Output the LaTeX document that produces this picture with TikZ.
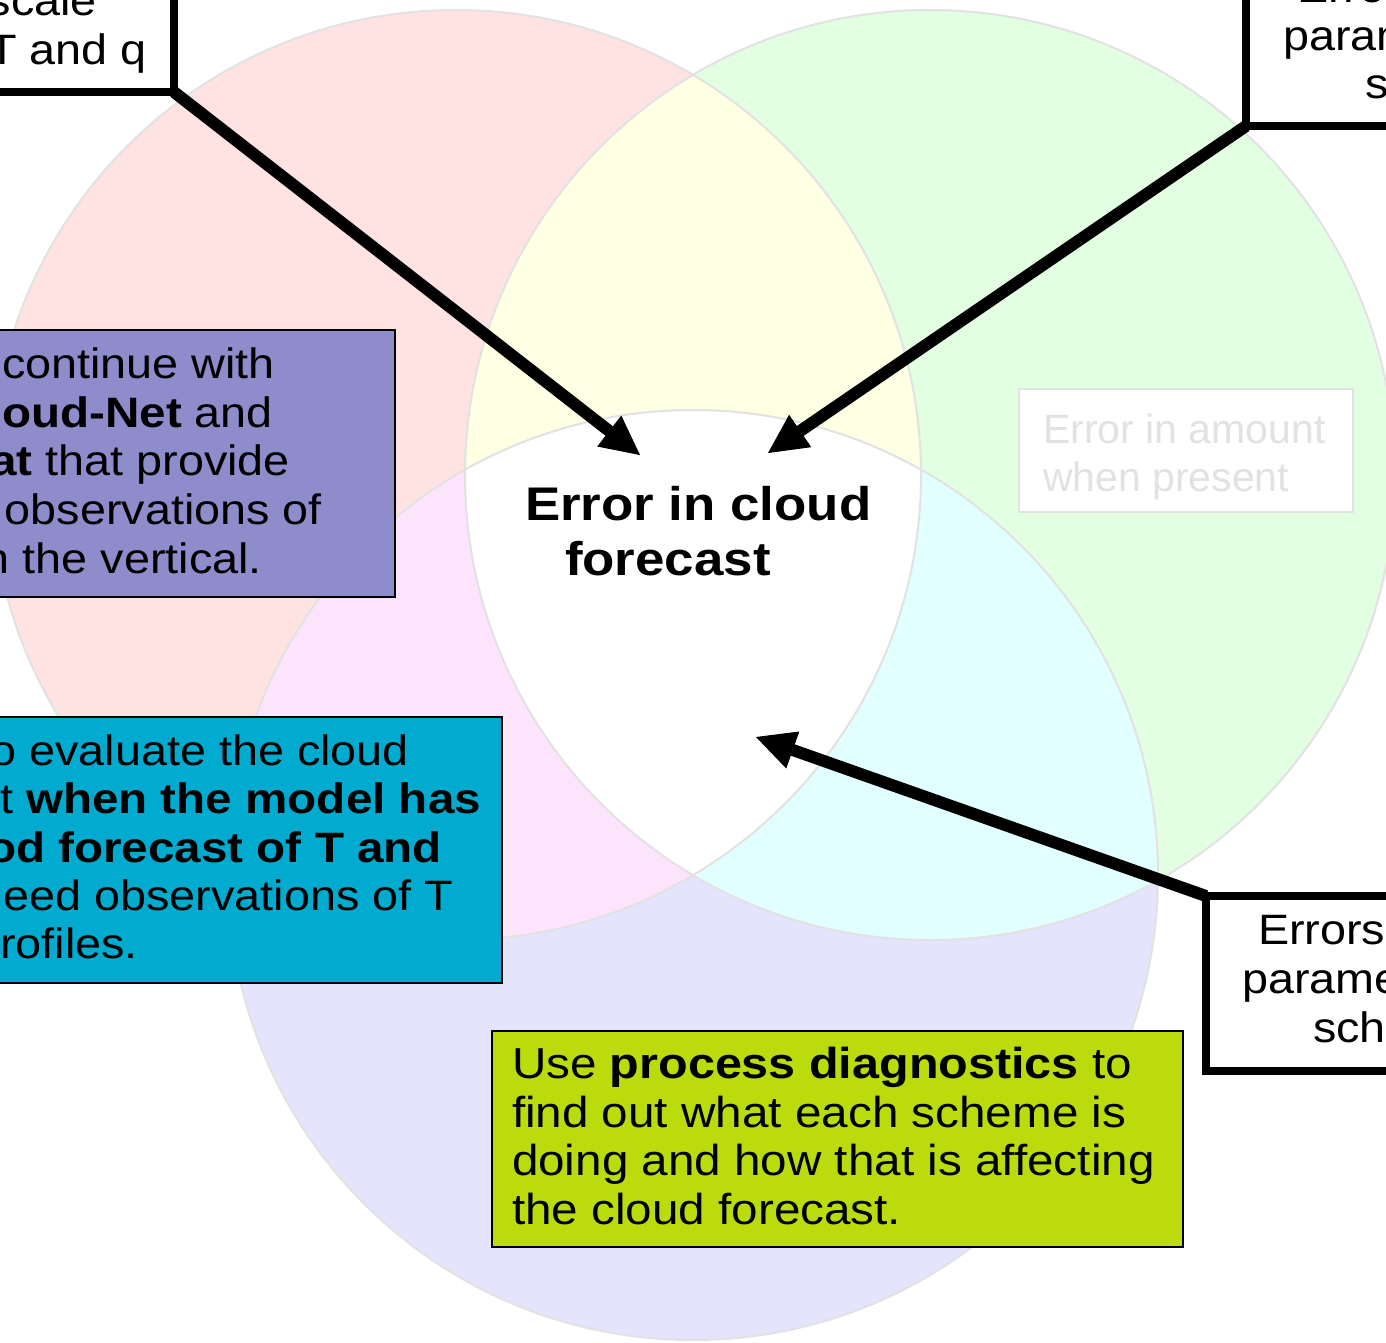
\documentclass[tikz,border=0pt]{standalone}
\usepackage{fontspec}
\setmainfont{Liberation Sans}[FakeStretch=1.1, BoldFeatures={FakeStretch=1.12}]
\newfontfamily\plainsans{Liberation Sans}
\usetikzlibrary{arrows.meta}
\definecolor{pinkc}{RGB}{255,226,226}
\definecolor{greenc}{RGB}{226,255,226}
\definecolor{bluec}{RGB}{228,228,252}
\definecolor{yellowc}{RGB}{255,255,228}
\definecolor{magc}{RGB}{252,228,252}
\definecolor{cyanc}{RGB}{226,255,255}
\definecolor{edgec}{RGB}{226,226,226}
\definecolor{purplebox}{RGB}{143,140,204}
\definecolor{cyanbox}{RGB}{0,171,207}
\definecolor{limebox}{RGB}{187,219,12}
\definecolor{greytext}{RGB}{226,226,226}
\begin{document}
\begin{tikzpicture}[x=1pt,y=-1pt,
  txt/.style={font=\fontsize{42.5}{49}\selectfont, inner sep=0pt, outer sep=0pt},
  limetxt/.style={font=\fontsize{43.3}{49}\selectfont, inner sep=0pt, outer sep=0pt},
  bigtxt/.style={font=\fontsize{47.2}{55}\selectfont\bfseries, inner sep=0pt, outer sep=0pt},
  greytxt/.style={font=\plainsans\fontsize{41}{47}\selectfont, text=greytext, inner sep=0pt, outer sep=0pt},
  thickbox/.style={draw=black, line width=8pt, fill=white, inner sep=0pt, outer sep=0pt},
  thinbox/.style={draw=black, line width=2pt, inner sep=0pt, outer sep=0pt},
  circline/.style={draw=edgec, line width=2pt},
  arr/.style={line width=12pt, -{Triangle[length=39pt,width=39pt,line width=1pt]}}
]
\useasboundingbox (0,0) rectangle (1386,1342);
\clip (0,0) rectangle (1386,1342);
\fill[white] (0,0) rectangle (1386,1342);
% circle centres
\coordinate (R) at (456,475);
\coordinate (G) at (930,475);
\coordinate (B) at (693,875);
\fill[pinkc] (R) circle[radius=465pt];
\fill[greenc] (G) circle[radius=465pt];
\fill[bluec] (B) circle[radius=465pt];
\begin{scope}\clip (R) circle[radius=465pt]; \fill[yellowc] (G) circle[radius=465pt];\end{scope}
\begin{scope}\clip (R) circle[radius=465pt]; \fill[magc] (B) circle[radius=465pt];\end{scope}
\begin{scope}\clip (G) circle[radius=465pt]; \fill[cyanc] (B) circle[radius=465pt];\end{scope}
\begin{scope}\clip (R) circle[radius=465pt]; \clip (G) circle[radius=465pt]; \fill[white] (B) circle[radius=465pt];\end{scope}
\draw[circline] (R) circle[radius=465pt];
\draw[circline] (G) circle[radius=465pt];
\draw[circline] (B) circle[radius=465pt];

% grey box
\node[draw=edgec, line width=2.5pt, fill=white, minimum width=334pt, minimum height=123pt, anchor=north west, inner sep=0pt, outer sep=0pt] (grey) at (1019,389) {};
\node[greytxt, anchor=base west] (g1) at (1043,443) {Error in amount};
\node[greytxt, anchor=base west] (g2) at (1043,491) {when present};

% center text
\node[bigtxt, anchor=base west] (c1) at (525,520) {Error in cloud};
\node[bigtxt, anchor=base west] (c2) at (565,575) {forecast};
\coordinate (tip1) at (640,455);
\coordinate (tip2) at (768,453);
\coordinate (tip3) at (756,737);

% top-left box
\node[thickbox, anchor=south east, minimum width=300pt, minimum height=200pt] (tl) at (174,92) {};
\node[txt, anchor=base east] (tl1) at (97,15) {scale};
\node[txt, anchor=base east] (tl2) at (147,64) {T and q};

% top-right box
\node[thickbox, anchor=south west, minimum width=300pt, minimum height=200pt] (tr) at (1246,126) {};
\node[txt, anchor=base west] (tr1) at (1297,2) {Erro};
\node[txt, anchor=base west] (tr2) at (1283,50) {param};
\node[txt, anchor=base west] (tr3) at (1365,98) {s};

% bottom-right box
\node[thickbox, anchor=north west, minimum width=300pt, minimum height=175pt] (br) at (1206,896) {};
\node[txt, anchor=base west] (br1) at (1258,944) {Errors};
\node[txt, anchor=base west] (br2) at (1242,993) {parame};
\node[txt, anchor=base west] (br3) at (1313,1042) {sch};

% purple box
\node[thinbox, fill=purplebox, anchor=north east, minimum width=500pt, minimum height=267pt] (pb) at (395,330) {};
\node[txt, anchor=base east] (p1) at (275,378) {continue with};
\node[txt, anchor=base east] (p2) at (273,427) {\textbf{oud-Net} and};
\node[txt, anchor=base east] (p3) at (290,475) {\textbf{at} that provide};
\node[txt, anchor=base east] (p4) at (322,524) {observations of};
\node[txt, anchor=base east] (p5) at (262,573) {n the vertical.};

% cyan box
\node[thinbox, fill=cyanbox, anchor=north east, minimum width=600pt, minimum height=266pt] (cb) at (502,717) {};
\node[txt, anchor=base east] (q1) at (409,765) {o evaluate the cloud};
\node[txt, anchor=base east] (q2) at (481,813) {t \textbf{when the model has}};
\node[txt, anchor=base east] (q3) at (442,862) {\textbf{od forecast of T and}};
\node[txt, anchor=base east] (q4) at (453,910) {eed observations of T};
\node[txt, anchor=base east] (q5) at (138,958) {rofiles.};

% lime box
\node[thinbox, fill=limebox, anchor=north west, minimum width=691pt, minimum height=216pt] (lb) at (492,1031) {};
\node[limetxt, anchor=base west] (l1) at (512,1078) {Use \textbf{process diagnostics} to};
\node[limetxt, anchor=base west] (l2) at (512,1127) {find out what each scheme is};
\node[limetxt, anchor=base west] (l3) at (512,1175) {doing and how that is affecting};
\node[limetxt, anchor=base west] (l4) at (512,1224) {the cloud forecast.};

% arrows
\draw[arr] (tl.south east) -- (tip1);
\draw[arr] (tr.south west) -- (tip2);
\draw[arr] (br.north west) -- (tip3);
\end{tikzpicture}
\end{document}
